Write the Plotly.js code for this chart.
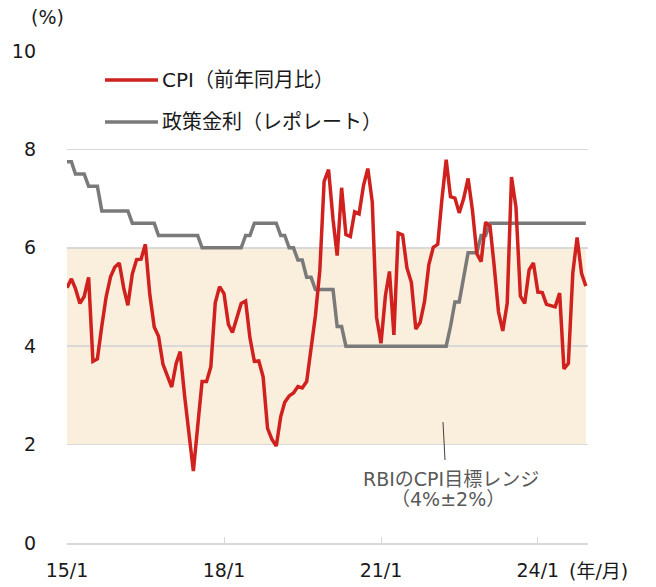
<!DOCTYPE html>
<html><head><meta charset="utf-8">
<script src="https://cdn.plot.ly/plotly-3.0.1.min.js"></script>
<style>html,body{margin:0;padding:0;background:#fff}#chart{width:656px;height:587px}</style>
</head><body><div id="chart"></div>
<script>
// Monthly, Jan 2015 – Dec 2024
var startYear = 2015, nMonths = 120;
var months = [];
for (var i = 0; i < nMonths; i++) {
  var y = startYear + Math.floor(i / 12), m = (i % 12) + 1;
  months.push(y + '-' + (m < 10 ? '0' : '') + m + '-01');
}
var cpi = [
  5.19,5.37,5.17,4.87,5.01,5.40,3.69,3.74,4.41,5.00,5.41,5.61,
  5.69,5.18,4.83,5.47,5.76,5.77,6.07,5.05,4.39,4.20,3.63,3.41,
  3.17,3.65,3.89,2.99,2.18,1.46,2.36,3.28,3.28,3.58,4.88,5.21,
  5.07,4.44,4.28,4.58,4.87,4.92,4.17,3.69,3.70,3.38,2.33,2.11,
  1.97,2.57,2.86,2.99,3.05,3.18,3.15,3.28,3.99,4.62,5.54,7.35,
  7.59,6.58,5.84,7.22,6.27,6.23,6.73,6.69,7.27,7.61,6.93,4.59,
  4.06,5.03,5.52,4.23,6.30,6.26,5.59,5.30,4.35,4.48,4.91,5.66,
  6.01,6.07,6.95,7.79,7.04,7.01,6.71,7.00,7.41,6.77,5.88,5.72,
  6.52,6.44,5.66,4.70,4.31,4.87,7.44,6.83,5.02,4.87,5.55,5.69,
  5.10,5.09,4.85,4.83,4.80,5.08,3.54,3.65,5.49,6.21,5.48,5.22
];
var repo = [
  7.75,7.75,7.50,7.50,7.50,7.25,7.25,7.25,6.75,6.75,6.75,6.75,
  6.75,6.75,6.75,6.50,6.50,6.50,6.50,6.50,6.50,6.25,6.25,6.25,
  6.25,6.25,6.25,6.25,6.25,6.25,6.25,6.00,6.00,6.00,6.00,6.00,
  6.00,6.00,6.00,6.00,6.00,6.25,6.25,6.50,6.50,6.50,6.50,6.50,
  6.50,6.25,6.25,6.00,6.00,5.75,5.75,5.40,5.40,5.15,5.15,5.15,
  5.15,5.15,4.40,4.40,4.00,4.00,4.00,4.00,4.00,4.00,4.00,4.00,
  4.00,4.00,4.00,4.00,4.00,4.00,4.00,4.00,4.00,4.00,4.00,4.00,
  4.00,4.00,4.00,4.00,4.40,4.90,4.90,5.40,5.90,5.90,5.90,6.25,
  6.25,6.50,6.50,6.50,6.50,6.50,6.50,6.50,6.50,6.50,6.50,6.50,
  6.50,6.50,6.50,6.50,6.50,6.50,6.50,6.50,6.50,6.50,6.50,6.50
];
var targetLow = 2, targetHigh = 6;
var tickVals = ['2015-01-01','2018-01-01','2021-01-01','2024-01-01'];
var tickText = ['15/1','18/1','21/1','24/1'];
var seriesNames = ['CPI（前年同月比）','政策金利（レポレート）'];
var seriesColors = ['#D0211F','#7A7A7A'];

var FONT = '"DejaVu Sans", "Noto Sans CJK JP", sans-serif';
var TXT = '#1a1a1a';

var traces = [
  {x: months, y: repo, type: 'scatter', mode: 'lines', name: seriesNames[1],
   line: {color: seriesColors[1], width: 3.5}, showlegend: false, hoverinfo: 'skip'},
  {x: months, y: cpi, type: 'scatter', mode: 'lines', name: seriesNames[0],
   line: {color: seriesColors[0], width: 3.5}, showlegend: false, hoverinfo: 'skip'}
];

var L = 67, R = 588, T = 51, B = 543;
function px(xp){ return (xp - L) / (R - L); }
function py(yp){ return (B - yp) / (B - T); }

var shapes = [
  {type: 'rect', xref: 'x', yref: 'y', x0: months[0], x1: months[nMonths-1],
   y0: targetLow, y1: targetHigh, fillcolor: '#FAEEDC', line: {width: 0}, layer: 'below'},
  {type: 'line', xref: 'paper', yref: 'paper', x0: px(105), x1: px(158), y0: py(80), y1: py(80),
   line: {color: seriesColors[0], width: 3.5}},
  {type: 'line', xref: 'paper', yref: 'paper', x0: px(105), x1: px(158), y0: py(122), y1: py(122),
   line: {color: seriesColors[1], width: 3.5}},
  {type: 'line', xref: 'paper', yref: 'paper', x0: px(443), x1: px(445), y0: py(422), y1: py(460),
   line: {color: '#404040', width: 1}}
];

var annotations = [
  {xref: 'paper', yref: 'paper', x: px(160), y: py(80), xanchor: 'left', yanchor: 'middle',
   text: seriesNames[0], showarrow: false, font: {family: FONT, size: 20, color: TXT}},
  {xref: 'paper', yref: 'paper', x: px(160), y: py(122), xanchor: 'left', yanchor: 'middle',
   text: seriesNames[1], showarrow: false, font: {family: FONT, size: 20, color: TXT}},
  {xref: 'paper', yref: 'paper', x: px(451), y: py(479), xanchor: 'center', yanchor: 'middle',
   text: 'RBIのCPI目標レンジ', showarrow: false, font: {family: FONT, size: 19, color: '#595959'}},
  {xref: 'paper', yref: 'paper', x: px(448), y: py(499), xanchor: 'center', yanchor: 'middle',
   text: '（4%±2%）', showarrow: false, font: {family: FONT, size: 19, color: '#595959'}},
  {xref: 'paper', yref: 'paper', x: px(29), y: py(17), xanchor: 'left', yanchor: 'middle',
   text: '(%)', showarrow: false, font: {family: FONT, size: 19, color: TXT}},
  {xref: 'paper', yref: 'paper', x: px(567), y: py(571), xanchor: 'left', yanchor: 'middle',
   text: '(年/月)', showarrow: false, font: {family: FONT, size: 19, color: TXT}}
];

var layout = {
  width: 656, height: 587,
  margin: {l: L, r: 656 - R, t: T, b: 587 - B, pad: 0},
  paper_bgcolor: '#fff', plot_bgcolor: '#fff',
  showlegend: false,
  font: {family: FONT, size: 19, color: TXT},
  xaxis: {
    type: 'date', range: ['2015-01-01', '2024-12-16'],
    tickvals: tickVals, ticktext: tickText,
    showgrid: false, zeroline: false,
    showline: true, linecolor: '#D9D9D9', linewidth: 1.5,
    ticks: 'inside', ticklen: 6, tickcolor: '#D9D9D9', tickwidth: 1,
    ticklabelstandoff: 10,
    tickfont: {family: FONT, size: 19, color: TXT}
  },
  yaxis: {
    range: [0, 10], tickvals: [0,2,4,6,8,10], ticktext: ['0','2','4','6','8','10'],
    showgrid: true, gridcolor: '#D9D9D9', gridwidth: 1.5,
    zeroline: false, showline: false, ticks: '',
    ticklabelstandoff: 30,
    tickfont: {family: FONT, size: 19, color: TXT}
  },
  shapes: shapes,
  annotations: annotations
};

Plotly.newPlot('chart', traces, layout, {displayModeBar: false, staticPlot: true});
</script>
</body></html>
